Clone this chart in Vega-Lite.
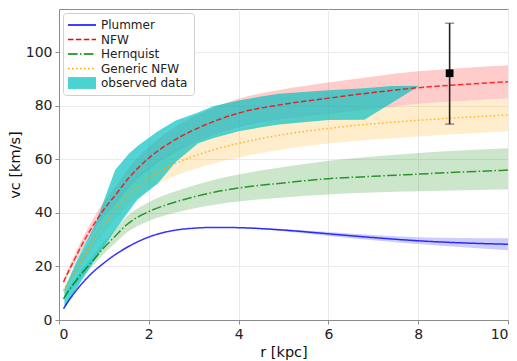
{
  "$schema": "https://vega.github.io/schema/vega-lite/v6.json",
  "width": 449,
  "height": 311,
  "autosize": {"type": "none"},
  "padding": {"left": 59, "top": 9, "right": 9, "bottom": 41},
  "config": {
    "font": "DejaVu Sans",
    "view": {"stroke": "#8c8c8c", "strokeWidth": 1},
    "axis": {
      "domainColor": "#8c8c8c", "tickColor": "#8c8c8c", "gridColor": "#ebebeb",
      "labelFont": "DejaVu Sans", "labelFontSize": 14, "labelColor": "#222",
      "titleFont": "DejaVu Sans", "titleFontSize": 14.5, "titleFontWeight": "normal", "titleColor": "#111",
      "tickSize": 4, "labelPadding": 3
    },
    "legend": {
      "orient": "top-left", "offset": 4, "padding": 6, "strokeColor": "#d0d0d0", "fillColor": "white",
      "cornerRadius": 3, "labelFont": "DejaVu Sans", "labelFontSize": 12, "labelColor": "#222",
      "symbolSize": 196, "symbolStrokeWidth": 1.5, "rowPadding": 2.5, "labelOffset": 20,
      "symbolType": "M-1,0H3"
    }
  },
  "datasets": {
    "models": [
      {"model": "Plummer", "r": 0.1, "v": 4.2, "lo": 4.2, "hi": 4.2},
      {"model": "Plummer", "r": 0.2, "v": 6.8, "lo": 6.8, "hi": 6.8},
      {"model": "Plummer", "r": 0.35, "v": 10.3, "lo": 10.3, "hi": 10.3},
      {"model": "Plummer", "r": 0.5, "v": 13.4, "lo": 13.4, "hi": 13.4},
      {"model": "Plummer", "r": 0.75, "v": 17.8, "lo": 17.8, "hi": 17.8},
      {"model": "Plummer", "r": 1, "v": 21.3, "lo": 21.3, "hi": 21.3},
      {"model": "Plummer", "r": 1.25, "v": 24.4, "lo": 24.4, "hi": 24.4},
      {"model": "Plummer", "r": 1.5, "v": 27, "lo": 27, "hi": 27},
      {"model": "Plummer", "r": 2, "v": 31, "lo": 31, "hi": 31},
      {"model": "Plummer", "r": 2.5, "v": 33.3, "lo": 33.3, "hi": 33.3},
      {"model": "Plummer", "r": 3, "v": 34.3, "lo": 34.3, "hi": 34.3},
      {"model": "Plummer", "r": 3.5, "v": 34.6, "lo": 34.6, "hi": 34.6},
      {"model": "Plummer", "r": 4, "v": 34.5, "lo": 34.4, "hi": 34.6},
      {"model": "Plummer", "r": 5, "v": 33.6, "lo": 33.2, "hi": 34.0},
      {"model": "Plummer", "r": 6, "v": 32.2, "lo": 31.4, "hi": 32.9},
      {"model": "Plummer", "r": 7, "v": 30.8, "lo": 29.8, "hi": 31.8},
      {"model": "Plummer", "r": 8, "v": 29.6, "lo": 28.4, "hi": 30.9},
      {"model": "Plummer", "r": 9, "v": 28.8, "lo": 27.2, "hi": 30.6},
      {"model": "Plummer", "r": 10, "v": 28.3, "lo": 26.1, "hi": 30.5},

      {"model": "NFW", "r": 0.1, "v": 14.2, "lo": 13.2, "hi": 15.2},
      {"model": "NFW", "r": 0.2, "v": 17.8, "lo": 16.6, "hi": 19.0},
      {"model": "NFW", "r": 0.35, "v": 22.8, "lo": 21.2, "hi": 24.4},
      {"model": "NFW", "r": 0.5, "v": 27.8, "lo": 25.9, "hi": 29.7},
      {"model": "NFW", "r": 0.75, "v": 35, "lo": 32.6, "hi": 37.5},
      {"model": "NFW", "r": 1, "v": 41.3, "lo": 38.4, "hi": 44.2},
      {"model": "NFW", "r": 1.25, "v": 46.5, "lo": 43.2, "hi": 49.8},
      {"model": "NFW", "r": 1.5, "v": 52, "lo": 48.4, "hi": 55.6},
      {"model": "NFW", "r": 2, "v": 60.5, "lo": 56.3, "hi": 64.7},
      {"model": "NFW", "r": 2.5, "v": 66.5, "lo": 61.8, "hi": 71.2},
      {"model": "NFW", "r": 3, "v": 71, "lo": 66, "hi": 76},
      {"model": "NFW", "r": 3.5, "v": 74.5, "lo": 69.3, "hi": 79.7},
      {"model": "NFW", "r": 4, "v": 77.3, "lo": 71.9, "hi": 82.7},
      {"model": "NFW", "r": 5, "v": 80.6, "lo": 75, "hi": 86.2},
      {"model": "NFW", "r": 6, "v": 82.9, "lo": 77.1, "hi": 88.7},
      {"model": "NFW", "r": 7, "v": 85, "lo": 79, "hi": 91},
      {"model": "NFW", "r": 8, "v": 86.8, "lo": 80.7, "hi": 92.9},
      {"model": "NFW", "r": 9, "v": 88, "lo": 81.8, "hi": 94.2},
      {"model": "NFW", "r": 10, "v": 89, "lo": 82.8, "hi": 95.2},

      {"model": "Hernquist", "r": 0.1, "v": 7.9, "lo": 7.3, "hi": 8.5},
      {"model": "Hernquist", "r": 0.2, "v": 10.6, "lo": 9.8, "hi": 11.4},
      {"model": "Hernquist", "r": 0.35, "v": 14, "lo": 12.9, "hi": 15.1},
      {"model": "Hernquist", "r": 0.5, "v": 17.3, "lo": 15.9, "hi": 18.7},
      {"model": "Hernquist", "r": 0.75, "v": 22, "lo": 20.2, "hi": 23.8},
      {"model": "Hernquist", "r": 1, "v": 27, "lo": 24.8, "hi": 29.2},
      {"model": "Hernquist", "r": 1.25, "v": 31.3, "lo": 28.7, "hi": 33.9},
      {"model": "Hernquist", "r": 1.5, "v": 35.5, "lo": 32.5, "hi": 38.5},
      {"model": "Hernquist", "r": 2, "v": 40.5, "lo": 37, "hi": 44},
      {"model": "Hernquist", "r": 2.5, "v": 43.6, "lo": 39.7, "hi": 47.5},
      {"model": "Hernquist", "r": 3, "v": 46, "lo": 41.7, "hi": 50.3},
      {"model": "Hernquist", "r": 3.5, "v": 47.9, "lo": 43.2, "hi": 52.6},
      {"model": "Hernquist", "r": 4, "v": 49.3, "lo": 44.3, "hi": 54.4},
      {"model": "Hernquist", "r": 5, "v": 51.2, "lo": 45.8, "hi": 57.2},
      {"model": "Hernquist", "r": 6, "v": 52.8, "lo": 46.9, "hi": 59.5},
      {"model": "Hernquist", "r": 7, "v": 53.7, "lo": 47.6, "hi": 61.1},
      {"model": "Hernquist", "r": 8, "v": 54.5, "lo": 48.1, "hi": 62.4},
      {"model": "Hernquist", "r": 9, "v": 55.3, "lo": 48.5, "hi": 63.4},
      {"model": "Hernquist", "r": 10, "v": 56, "lo": 48.8, "hi": 64.2},

      {"model": "Generic NFW", "r": 0.1, "v": 11, "lo": 10.1, "hi": 11.9},
      {"model": "Generic NFW", "r": 0.2, "v": 14, "lo": 12.9, "hi": 15.1},
      {"model": "Generic NFW", "r": 0.35, "v": 18.2, "lo": 16.7, "hi": 19.7},
      {"model": "Generic NFW", "r": 0.5, "v": 22.3, "lo": 20.5, "hi": 24.1},
      {"model": "Generic NFW", "r": 0.75, "v": 29, "lo": 26.7, "hi": 31.3},
      {"model": "Generic NFW", "r": 1, "v": 35.5, "lo": 32.7, "hi": 38.3},
      {"model": "Generic NFW", "r": 1.25, "v": 41, "lo": 37.7, "hi": 44.3},
      {"model": "Generic NFW", "r": 1.5, "v": 45.8, "lo": 42.1, "hi": 49.5},
      {"model": "Generic NFW", "r": 2, "v": 53, "lo": 48.8, "hi": 57.2},
      {"model": "Generic NFW", "r": 2.5, "v": 57.8, "lo": 53.2, "hi": 62.4},
      {"model": "Generic NFW", "r": 3, "v": 61.2, "lo": 56.3, "hi": 66.1},
      {"model": "Generic NFW", "r": 3.5, "v": 63.9, "lo": 58.8, "hi": 69},
      {"model": "Generic NFW", "r": 4, "v": 66, "lo": 60.7, "hi": 71.3},
      {"model": "Generic NFW", "r": 5, "v": 69.3, "lo": 63.8, "hi": 74.8},
      {"model": "Generic NFW", "r": 6, "v": 71.6, "lo": 65.9, "hi": 77.3},
      {"model": "Generic NFW", "r": 7, "v": 73.3, "lo": 67.4, "hi": 79.2},
      {"model": "Generic NFW", "r": 8, "v": 74.6, "lo": 68.6, "hi": 80.6},
      {"model": "Generic NFW", "r": 9, "v": 75.7, "lo": 69.6, "hi": 81.8},
      {"model": "Generic NFW", "r": 10, "v": 76.6, "lo": 70.5, "hi": 82.7}
    ],
    "observed": [
      {"r": 0.12, "lo": 4.5, "hi": 11.5},
      {"r": 0.4, "lo": 12, "hi": 22.3},
      {"r": 0.8, "lo": 22.5, "hi": 35.5},
      {"r": 1.25, "lo": 33.5, "hi": 56},
      {"r": 1.55, "lo": 40.5, "hi": 62},
      {"r": 1.75, "lo": 45, "hi": 65},
      {"r": 2.2, "lo": 51, "hi": 70.5},
      {"r": 2.6, "lo": 59, "hi": 74.5},
      {"r": 3.1, "lo": 66, "hi": 77.5},
      {"r": 3.45, "lo": 68, "hi": 80},
      {"r": 4.0, "lo": 70.5, "hi": 82},
      {"r": 4.5, "lo": 72, "hi": 83.5},
      {"r": 4.9, "lo": 73, "hi": 84.5},
      {"r": 6.0, "lo": 74.7, "hi": 85.8},
      {"r": 6.8, "lo": 74.8, "hi": 86.6},
      {"r": 7.4, "lo": 81, "hi": 87.4},
      {"r": 8.0, "lo": 87.2, "hi": 87.5}
    ],
    "point": [
      {"r": 8.7, "v": 92.2, "lo": 73.2, "hi": 110.9}
    ]
  },
  "encoding": {
    "x": {"field": "r", "type": "quantitative", "scale": {"domain": [0, 10], "nice": false},
      "axis": {"title": "r [kpc]", "values": [0, 2, 4, 6, 8, 10], "grid": true}},
    "y": {"type": "quantitative", "scale": {"domain": [0, 116.2], "nice": false},
      "axis": {"title": "vc [km/s]", "values": [0, 20, 40, 60, 80, 100], "grid": true, "titlePadding": 3}}
  },
  "layer": [
    {
      "data": {"name": "models"},
      "mark": {"type": "area", "interpolate": "monotone", "fillOpacity": 0.2},
      "encoding": {
        "y": {"field": "lo", "type": "quantitative"},
        "y2": {"field": "hi"},
        "fill": {"field": "model", "type": "nominal",
          "scale": {"domain": ["Plummer", "NFW", "Hernquist", "Generic NFW"], "range": ["#0000ff", "#ff0000", "#008000", "#ffa500"]},
          "legend": null}
      }
    },
    {
      "data": {"name": "observed"},
      "mark": {"type": "area", "color": "#00bfbf", "fillOpacity": 0.68},
      "encoding": {
        "y": {"field": "lo", "type": "quantitative"},
        "y2": {"field": "hi"}
      }
    },
    {
      "data": {"name": "models"},
      "mark": {"type": "line", "interpolate": "monotone", "strokeWidth": 1.5, "strokeOpacity": 0.8},
      "encoding": {
        "y": {"field": "v", "type": "quantitative"},
        "color": {"field": "model", "type": "nominal",
          "scale": {"domain": ["Plummer", "NFW", "Hernquist", "Generic NFW", "observed data"], "range": ["#0000ff", "#ff0000", "#008000", "#ffa500", "#00bfbf"]},
          "legend": {"title": null,
            "encode": {"symbols": {"update": {
              "shape": {"signal": "datum.value === 'observed data' ? 'M-1,-0.85H3V0.85H-1Z' : 'M-1,0H3'"},
              "fill": {"signal": "datum.value === 'observed data' ? '#4dd2d2' : 'transparent'"},
              "fillOpacity": {"value": 1},
              "strokeWidth": {"signal": "datum.value === 'observed data' ? 0 : 1.5"}
            }}}}},
        "strokeDash": {"field": "model", "type": "nominal",
          "scale": {"domain": ["Plummer", "NFW", "Hernquist", "Generic NFW", "observed data"], "range": [[1, 0], [5.5, 2.4], [9.6, 2.4, 1.5, 2.4], [1.5, 2.5], [1, 0]]},
          "legend": {"title": null}}
      }
    },
    {
      "data": {"name": "point"},
      "mark": {"type": "errorbar", "ticks": {"size": 9, "color": "#222"}, "rule": {"color": "#222", "strokeWidth": 1.6}},
      "encoding": {
        "y": {"field": "lo", "type": "quantitative"},
        "y2": {"field": "hi"}
      }
    },
    {
      "data": {"name": "point"},
      "mark": {"type": "point", "shape": "square", "filled": true, "color": "black", "size": 60, "opacity": 1},
      "encoding": {
        "y": {"field": "v", "type": "quantitative"}
      }
    }
  ]
}
